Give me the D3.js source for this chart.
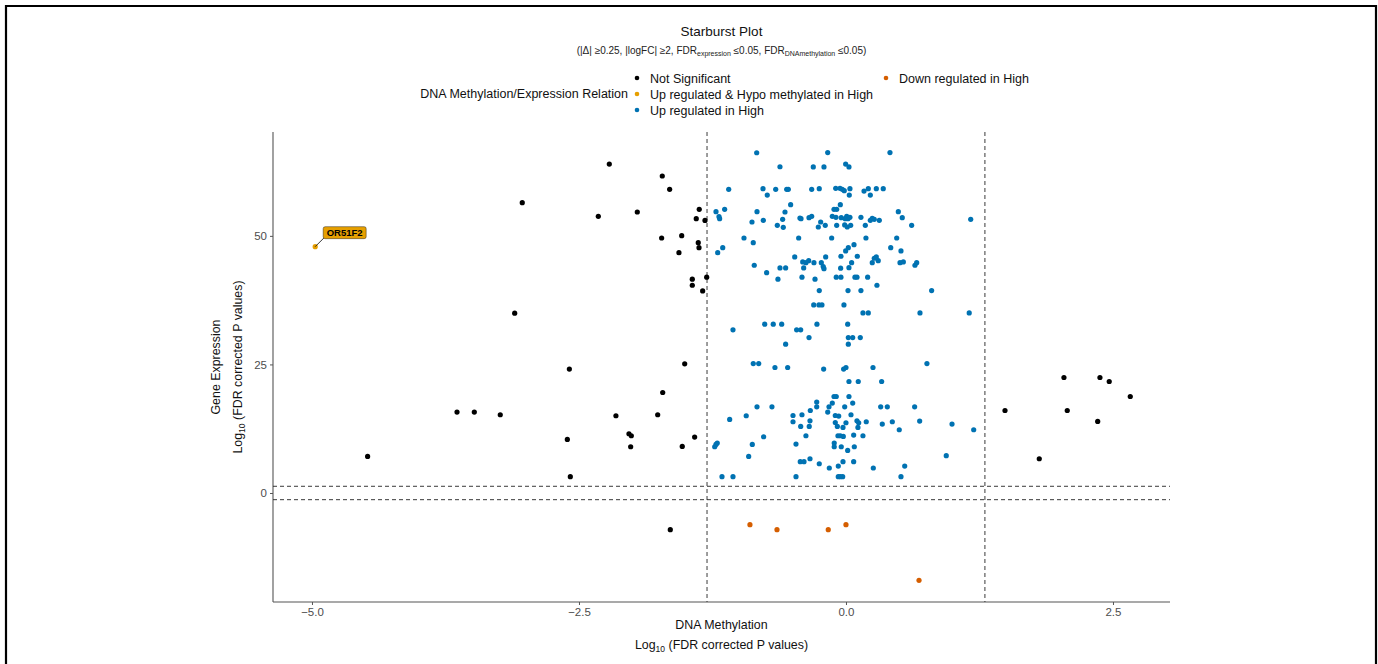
<!DOCTYPE html>
<html>
<head>
<meta charset="utf-8">
<script src="https://cdn.jsdelivr.net/npm/d3@7"></script>
<style>
  body { margin: 0; background: #fff; }
  svg { display: block; font-family: "Liberation Sans", Arial, sans-serif; }
</style>
</head>
<body>
<script>
// data: [methylation log10 FDR, expression log10 FDR]
const notSignificant = [
  [-2.216, 63.97], [-1.720, 61.64], [-1.651, 59.05], [-3.031, 56.45], [-2.319, 53.81],
  [-1.954, 54.64], [-1.374, 55.17], [-1.402, 53.34], [-1.32, 53.0], [-1.726, 49.59],
  [-1.538, 50.04], [-1.564, 46.74], [-1.383, 48.68], [-1.376, 47.71], [-1.439, 41.57],
  [-1.439, 40.40], [-1.304, 41.96], [-1.342, 39.30], [-3.102, 34.97], [-2.590, 24.09],
  [-1.510, 25.12], [-1.716, 19.54], [-3.642, 15.73], [-3.480, 15.73], [-3.237, 15.21],
  [-2.154, 15.02], [-1.763, 15.21], [-2.609, 10.41], [-2.032, 11.52], [-2.010, 11.13],
  [-2.016, 8.99], [-1.533, 9.05], [-1.417, 10.88], [-2.581, 3.17], [-1.645, -7.13],
  [-4.479, 7.11],
  [2.041, 22.46], [2.378, 22.46], [2.465, 21.68], [2.662, 18.76], [1.489, 16.04],
  [2.072, 16.04], [2.357, 13.91], [1.810, 6.66]
];
const upHypo = [[-4.97, 47.9]];
const upHypoLabels = ['OR51F2'];
const downRegulated = [[-0.899, -6.16], [-0.646, -7.13], [-0.166, -7.13], [0.0, -6.16], [0.684, -16.98]];
const upRegulated = [
  [-0.836, 66.16], [-0.171, 66.2], [0.412, 66.2], [-0.618, 63.44], [-0.306, 63.4],
  [-0.206, 63.4], [-0.003, 63.97], [0.028, 63.4], [-1.098, 59.05], [-0.777, 59.17],
  [-0.737, 57.94], [-0.658, 59.05], [-0.555, 59.05], [-0.540, 59.05], [-0.321, 59.05],
  [-0.250, 59.17], [-0.096, 59.25], [-0.056, 59.25], [-0.035, 59.05], [-0.016, 58.78],
  [0.037, 59.17], [0.031, 57.94], [0.169, 58.72], [0.209, 59.17], [0.228, 57.94],
  [0.284, 59.17], [0.349, 59.17], [-0.518, 56.06], [-1.217, 54.70], [-1.136, 55.17],
  [-1.189, 53.73], [-1.183, 53.34], [-0.833, 54.70], [-0.880, 52.70], [-0.774, 53.03],
  [-0.571, 54.64], [-0.593, 53.22], [-0.643, 52.06], [-0.587, 51.67], [-0.431, 53.48],
  [-0.421, 53.34], [-0.346, 53.54], [-0.321, 53.81], [-0.237, 52.70], [-0.259, 51.73],
  [-0.194, 52.06], [-0.112, 55.17], [-0.087, 55.17], [-0.053, 56.06], [-0.128, 53.81],
  [-0.094, 53.61], [-0.044, 53.54], [0.007, 53.81], [0.019, 53.34], [0.037, 53.61],
  [-0.007, 53.34], [-0.087, 52.06], [-0.012, 52.12], [0.012, 51.73], [0.044, 52.06],
  [0.140, 53.61], [0.228, 53.03], [0.246, 53.42], [0.265, 53.22], [0.312, 53.03],
  [0.181, 52.06], [0.490, 54.70], [0.527, 53.54], [0.615, 52.06], [1.168, 53.22],
  [-0.955, 49.59], [-0.868, 48.68], [-0.443, 49.59], [-0.134, 49.59], [0.187, 49.59],
  [0.475, 49.59], [-1.201, 46.74], [-1.154, 47.71], [-0.480, 45.90], [-0.405, 44.93],
  [-0.375, 44.79], [-0.349, 45.18], [-0.300, 44.79], [-0.190, 45.90], [-0.231, 44.79],
  [-0.213, 44.02], [-0.206, 43.63], [-0.047, 46.04], [-0.003, 47.07], [0.022, 47.71],
  [0.075, 48.29], [0.106, 46.04], [0.053, 44.79], [0.028, 43.82], [-0.050, 43.71],
  [0.246, 44.79], [0.265, 45.65], [0.284, 45.90], [0.302, 45.18], [0.419, 47.71],
  [0.515, 47.07], [0.506, 44.79], [0.537, 44.93], [0.646, 44.29], [0.662, 44.79],
  [-0.859, 44.29], [-0.618, 43.76], [-0.565, 43.76], [-0.396, 43.76], [-0.743, 42.85],
  [-0.637, 41.57], [-0.412, 41.96], [-0.290, 41.57], [-0.091, 41.96], [-0.047, 41.96],
  [0.084, 41.96], [0.103, 41.96], [0.203, 41.96], [0.290, 40.40], [-0.250, 39.36],
  [0.019, 39.36], [0.140, 39.36], [0.802, 39.36], [-0.302, 36.58], [-0.253, 36.58],
  [-0.225, 36.58], [-0.019, 36.58], [0.159, 35.02], [0.209, 35.02], [0.693, 35.02],
  [1.154, 35.02], [-0.761, 32.83], [-0.681, 32.83], [-0.602, 32.83], [-0.272, 32.83],
  [0.016, 32.83], [-1.058, 31.72], [-0.462, 31.72], [-0.424, 31.72], [-0.346, 30.23],
  [0.022, 30.23], [0.063, 30.23], [0.134, 30.23], [-0.565, 28.94], [0.022, 28.94],
  [-0.868, 25.17], [-0.817, 25.17], [-0.665, 24.40], [-0.546, 24.40], [-0.209, 24.09],
  [-0.022, 24.09], [0.0, 24.40], [0.253, 24.40], [0.758, 25.17], [0.028, 21.68],
  [0.115, 21.68], [0.334, 21.68], [-0.112, 18.76], [-0.091, 18.76], [0.028, 18.76],
  [-0.274, 17.68], [-0.274, 16.76], [0.063, 17.48], [-0.128, 17.48], [-0.159, 16.76],
  [-0.171, 15.73], [-0.012, 16.76], [-0.334, 16.04], [-0.833, 16.76], [-0.693, 16.76],
  [0.325, 16.76], [0.387, 16.76], [0.643, 16.76], [-1.089, 14.30], [-0.934, 15.02],
  [-0.496, 15.07], [-0.412, 15.21], [-0.337, 14.04], [-0.496, 13.85], [-0.424, 12.94],
  [-0.344, 12.94], [-0.100, 15.07], [-0.068, 14.96], [0.047, 15.21], [-0.100, 13.71],
  [-0.081, 12.94], [0.0, 13.66], [-0.028, 12.74], [0.103, 14.04], [0.119, 13.66],
  [0.112, 12.74], [0.190, 13.85], [0.340, 13.40], [0.434, 13.85], [0.690, 13.99],
  [0.993, 13.40], [0.499, 12.30], [1.196, 12.30], [-0.771, 10.94], [-0.375, 11.13],
  [-0.075, 11.13], [-0.053, 11.13], [-0.025, 10.99], [0.072, 11.27], [0.159, 11.13],
  [-1.229, 8.99], [-1.217, 9.44], [-1.205, 9.71], [-0.877, 9.44], [-0.468, 9.52],
  [-0.110, 9.71], [-0.110, 8.99], [-0.044, 8.99], [0.078, 8.99], [0.016, 8.28],
  [-0.911, 7.11], [-0.337, 6.66], [-0.428, 6.08], [-0.393, 6.08], [-0.250, 5.69],
  [-0.028, 6.08], [0.072, 6.08], [-0.156, 4.86], [-0.072, 5.24], [0.256, 4.86],
  [0.550, 5.24], [0.939, 7.25], [-1.161, 3.17], [-1.058, 3.17], [-0.468, 3.17],
  [-0.072, 3.17], [-0.053, 3.17], [-0.031, 3.17], [0.515, 3.17]
];

const groups = [
  { name: 'Not Significant', color: '#000000', data: notSignificant },
  { name: 'Up regulated & Hypo methylated in High', color: '#E69F00', data: upHypo },
  { name: 'Up regulated in High', color: '#0072B2', data: upRegulated },
  { name: 'Down regulated in High', color: '#D55E00', data: downRegulated }
];

const xTicks = [-5.0, -2.5, 0.0, 2.5];
const yTicks = [0, 25, 50];
const cutoff = -Math.log10(0.05);

const W = 1378, H = 664;
const M = { left: 273, right: 1170, top: 132, bottom: 602 };

const svg = d3.select('body').append('svg').attr('width', W).attr('height', H);

// outer frame
svg.append('path')
  .attr('d', `M6,${H + 5}V6H1376V${H + 5}`)
  .attr('fill', 'none').attr('stroke', '#000').attr('stroke-width', 2.2);

const x = d3.scaleLinear().domain([-5.365, 3.034]).range([M.left, M.right]);
const y = d3.scaleLinear().domain([-21.2, 70.2]).range([M.bottom, M.top]);

// axes
const xAxis = svg.append('g')
  .attr('transform', `translate(0,${M.bottom})`)
  .call(d3.axisBottom(x).tickValues(xTicks).tickFormat(d3.format('.1f')).tickSizeOuter(0).tickSize(3).tickPadding(3));
const yAxis = svg.append('g')
  .attr('transform', `translate(${M.left},0)`)
  .call(d3.axisLeft(y).tickValues(yTicks).tickSizeOuter(0).tickSize(3).tickPadding(3));
[xAxis, yAxis].forEach((g) => {
  g.select('.domain').attr('stroke', '#555').attr('stroke-width', 1.1);
  g.selectAll('.tick line').attr('stroke', '#555');
  g.selectAll('.tick text').attr('fill', '#4d4d4d').style('font-size', '11.5px')
    .style('font-family', '"Liberation Sans", Arial, sans-serif');
});
xAxis.select('.domain').attr('d', `M${M.left},0H${M.right}`);
yAxis.select('.domain').attr('d', `M0,${M.bottom}V${M.top}`);

// cutoff lines
const dash = '4,3';
[-cutoff, cutoff].forEach((v) => {
  svg.append('line')
    .attr('x1', x(v)).attr('x2', x(v)).attr('y1', M.top).attr('y2', M.bottom)
    .attr('stroke', '#222').attr('stroke-width', 0.9).attr('stroke-dasharray', dash);
  svg.append('line')
    .attr('x1', M.left).attr('x2', M.right).attr('y1', y(v)).attr('y2', y(v))
    .attr('stroke', '#222').attr('stroke-width', 0.9).attr('stroke-dasharray', dash);
});

// points
groups.forEach((g) => {
  svg.append('g').selectAll('circle')
    .data(g.data)
    .join('circle')
    .attr('cx', (d) => x(d[0]))
    .attr('cy', (d) => y(d[1]))
    .attr('r', 2.6)
    .attr('fill', g.color);
});

// label for the hypo-methylated gene
upHypo.forEach((d, i) => {
  const px = x(d[0]), py = y(d[1]);
  const lx = px + 8, ly = py - 20;
  svg.append('line')
    .attr('x1', px).attr('y1', py).attr('x2', lx + 1).attr('y2', ly + 11)
    .attr('stroke', '#000').attr('stroke-width', 0.8);
  svg.append('rect')
    .attr('x', lx).attr('y', ly).attr('width', 43).attr('height', 12)
    .attr('rx', 2).attr('fill', '#E69F00').attr('stroke', '#000').attr('stroke-width', 0.4);
  svg.append('text')
    .attr('x', lx + 21.5).attr('y', ly + 9.5)
    .attr('text-anchor', 'middle')
    .style('font-size', '9.5px').style('font-weight', 'bold')
    .text(upHypoLabels[i]);
});

// titles
const cx = (M.left + M.right) / 2;
svg.append('text').attr('x', cx).attr('y', 36).attr('text-anchor', 'middle')
  .style('font-size', '13.5px').attr('fill', '#111').text('Starburst Plot');

const sub = svg.append('text').attr('x', cx).attr('y', 54).attr('text-anchor', 'middle')
  .style('font-size', '10px').attr('fill', '#222');
sub.append('tspan').text('(|Δ| ≥0.25,  |logFC| ≥2, FDR');
sub.append('tspan').attr('dy', 2).style('font-size', '7px').text('expression');
sub.append('tspan').attr('dy', -2).text(' ≤0.05, FDR');
sub.append('tspan').attr('dy', 2).style('font-size', '7px').text('DNAmethylation');
sub.append('tspan').attr('dy', -2).text(' ≤0.05)');

// legend
svg.append('text').attr('x', 628).attr('y', 98).attr('text-anchor', 'end')
  .style('font-size', '12.5px').attr('fill', '#111').text('DNA Methylation/Expression Relation');
const legendPos = [[637, 78], [637, 94], [637, 110], [886, 78]];
groups.forEach((g, i) => {
  const [lx, ly] = legendPos[i];
  svg.append('circle').attr('cx', lx).attr('cy', ly).attr('r', 2.3).attr('fill', g.color);
  svg.append('text').attr('x', lx + 13).attr('y', ly + 4.5)
    .style('font-size', '12.5px').attr('fill', '#111').text(g.name);
});

// axis titles
const xt = svg.append('g').attr('text-anchor', 'middle').attr('fill', '#111').style('font-size', '12.4px');
xt.append('text').attr('x', cx).attr('y', 629).text('DNA Methylation');
const xt2 = xt.append('text').attr('x', cx).attr('y', 649);
xt2.append('tspan').text('Log');
xt2.append('tspan').attr('dy', 3).style('font-size', '8.5px').text('10');
xt2.append('tspan').attr('dy', -3).text(' (FDR corrected P values)');

const cy = (M.top + M.bottom) / 2;
const yt = svg.append('g').attr('text-anchor', 'middle').attr('fill', '#111').style('font-size', '12.4px');
yt.append('text').attr('transform', `translate(220,${cy}) rotate(-90)`).text('Gene Expression');
const yt2 = yt.append('text').attr('transform', `translate(242,${cy}) rotate(-90)`);
yt2.append('tspan').text('Log');
yt2.append('tspan').attr('dy', 3).style('font-size', '8.5px').text('10');
yt2.append('tspan').attr('dy', -3).text(' (FDR corrected P values)');
</script>
</body>
</html>
